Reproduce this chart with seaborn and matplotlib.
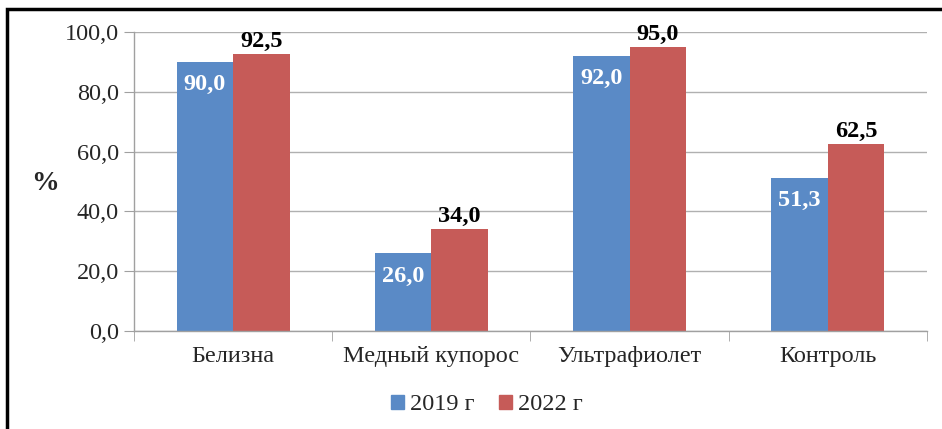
import pandas as pd
import seaborn as sns
import matplotlib.pyplot as plt
from matplotlib.patches import Rectangle
from matplotlib.ticker import FuncFormatter, FixedLocator

#data
categories = ['Белизна', 'Медный купорос', 'Ультрафиолет', 'Контроль']
series = ['2019 г', '2022 г']
values_2019 = [90.0, 26.0, 92.0, 51.3]
values_2022 = [92.5, 34.0, 95.0, 62.5]
colors = ['#5a8ac6', '#c65b58']

df = pd.DataFrame({
    'cat': categories * 2,
    'year': [series[0]] * 4 + [series[1]] * 4,
    'val': values_2019 + values_2022,
})

sns.set_style('white')
plt.rcParams['font.family'] = ['Liberation Serif', 'DejaVu Serif']

fig = plt.figure(figsize=(9.42, 4.29), dpi=100)
ax = fig.add_axes([0.1423, 0.2284, 0.8417, 0.697])

sns.barplot(data=df, x='cat', y='val', hue='year', palette=colors,
            width=0.57, saturation=1, linewidth=0, ax=ax, legend=False)

ax.set_ylim(0, 100)
ax.set_xlim(-0.5, 3.5)
ax.yaxis.set_major_locator(FixedLocator([0, 20, 40, 60, 80, 100]))
ax.yaxis.set_major_formatter(FuncFormatter(lambda v, p: f'{v:.1f}'.replace('.', ',')))
ax.grid(True, axis='y', color='#b0b0b0', linewidth=1)
ax.set_axisbelow(True)
for s in ['top', 'right']:
    ax.spines[s].set_visible(False)
for s in ['left', 'bottom']:
    ax.spines[s].set_color('#a0a0a0')
    ax.spines[s].set_linewidth(1)
ax.tick_params(axis='y', labelsize=17.5, length=7, color='#a0a0a0', left=True, pad=4)
ax.tick_params(axis='x', which='major', labelsize=17.5, length=0, pad=11)
ax.set_xticks([-0.5, 0.5, 1.5, 2.5, 3.5], minor=True)
ax.tick_params(axis='x', which='minor', length=7, color='#a0a0a0', bottom=True)
ax.set_xlabel('')
ax.set_ylabel('')

fig.text(0.048, 0.573, '%', fontsize=20, fontweight='bold', ha='center', va='center')

#value labels
for i, cont in enumerate(ax.containers):
    for bar in cont:
        h = bar.get_height()
        txt = f'{h:.1f}'.replace('.', ',')
        x = bar.get_x() + bar.get_width() / 2
        if i == 0:
            ax.annotate(txt, (x, h), xytext=(0, -9), textcoords='offset points',
                        ha='center', va='top', color='white', fontsize=17.5, fontweight='bold')
        else:
            ax.annotate(txt, (x, h), xytext=(0, 1.5), textcoords='offset points',
                        ha='center', va='bottom', color='black', fontsize=17.5, fontweight='bold')

#legend
handles = [Rectangle((0, 0), 1, 1, color=c) for c in colors]
fig.legend(handles, series, loc='center', bbox_to_anchor=(0.517, 0.056), ncol=2,
           frameon=False, fontsize=17.5, handlelength=0.55, handleheight=0.55,
           handletextpad=0.25, columnspacing=1.0)

#frame
fig.patches.append(Rectangle((0.0075, -0.1), 1.1, 1.08, transform=fig.transFigure,
                             fill=False, edgecolor='black', linewidth=2.5))

plt.savefig('out.png', dpi=100)
